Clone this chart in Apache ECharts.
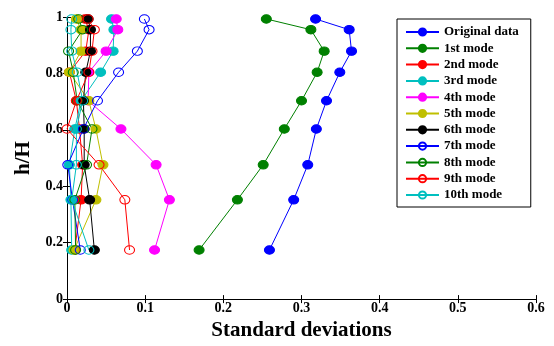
<!DOCTYPE html>
<html><head><meta charset="utf-8">
<script src="https://cdn.jsdelivr.net/npm/echarts@6/dist/echarts.min.js"></script>
<style>html,body{margin:0;padding:0;background:#fff}#c{width:554px;height:346px}</style>
</head><body><div id="c"></div>
<script>
// Heights (h/H) shared by all series
const heights = [0.993, 0.955, 0.879, 0.804, 0.703, 0.603, 0.476, 0.352, 0.174];
const xTicks = ['0','0.1','0.2','0.3','0.4','0.5','0.6'];
const yTicks = ['0','0.2','0.4','0.6','0.8','1'];
// Standard deviations per series
const originalData = [0.318, 0.361, 0.364, 0.349, 0.332, 0.319, 0.308, 0.290, 0.259];
const mode1  = [0.255, 0.312, 0.329, 0.320, 0.300, 0.278, 0.251, 0.218, 0.169];
const mode2  = [0.023, 0.028, 0.024, 0.003, 0.012, 0.016, 0.020, 0.018, 0.010];
const mode3  = [0.057, 0.060, 0.059, 0.043, 0.018, 0.010, 0.003, 0.005, 0.006];
const mode4  = [0.063, 0.065, 0.050, 0.028, 0.027, 0.069, 0.114, 0.131, 0.112];
const mode5  = [0.012, 0.018, 0.018, 0.003, 0.028, 0.037, 0.046, 0.037, 0.009];
const mode6  = [0.027, 0.030, 0.030, 0.024, 0.021, 0.022, 0.022, 0.029, 0.035];
const mode7  = [0.099, 0.105, 0.090, 0.066, 0.039, 0.021, 0.001, 0.007, 0.017];
const mode8  = [0.015, 0.020, 0.002, 0.008, 0.013, 0.032, 0.025, 0.010, 0.011];
const mode9  = [0.027, 0.035, 0.032, 0.028, 0.012, 0.000, 0.041, 0.074, 0.080];
const mode10 = [0.006, 0.005, 0.006, 0.013, 0.020, 0.012, 0.012, 0.006, 0.028];

const seriesNames = ['Original data','1st mode','2nd mode','3rd mode','4th mode','5th mode','6th mode','7th mode','8th mode','9th mode','10th mode'];
const seriesValues = [originalData, mode1, mode2, mode3, mode4, mode5, mode6, mode7, mode8, mode9, mode10];
const seriesColors = ['#0000ff','#008000','#ff0000','#00bfbf','#ff00ff','#bfbf00','#000000','#0000ff','#008000','#ff0000','#00bfbf'];
const seriesFilled = [true,true,true,true,true,true,true,false,false,false,false];

const font = 'Liberation Serif, Times New Roman, serif';
const series = seriesNames.map((n, i) => ({
  name: n, type: 'line',
  data: seriesValues[i].map((v, k) => [v, heights[k]]),
  symbol: 'circle',
  symbolSize: [10, 8.5],
  showAllSymbol: true,
  lineStyle: { color: seriesColors[i], width: 1 },
  itemStyle: { color: seriesFilled[i] ? seriesColors[i] : 'rgba(255,255,255,0)', borderColor: seriesColors[i], borderWidth: 1 },
  emphasis: { disabled: true },
  animation: false
}));

const chart = echarts.init(document.getElementById('c'));
chart.setOption({
  animation: false,
  backgroundColor: '#fff',
  grid: { left: 67, right: 18, top: 17, bottom: 42, containLabel: false },
  xAxis: [{
    type: 'value', min: 0, max: 0.6, interval: 0.1,
    name: 'Standard deviations', nameLocation: 'middle', nameGap: 16,
    nameTextStyle: { fontFamily: font, fontWeight: 'bold', fontSize: 21, color: '#000' },
    axisLine: { lineStyle: { color: '#000', width: 1 } },
    axisTick: { inside: true, length: 4, lineStyle: { color: '#000' } },
    axisLabel: { margin: 2, fontFamily: font, fontWeight: 'bold', fontSize: 14, color: '#000',
      formatter: (v) => xTicks[Math.round(v * 10)] },
    splitLine: { show: false }
  }, {
    type: 'value', min: 0, max: 0.6, interval: 0.1, position: 'top',
    axisLine: { show: true, lineStyle: { color: '#000', width: 1 } },
    axisTick: { inside: true, length: 4, lineStyle: { color: '#000' } },
    axisLabel: { show: false }, splitLine: { show: false }
  }],
  yAxis: [{
    type: 'value', min: 0, max: 1, interval: 0.2,
    name: 'h/H', nameLocation: 'middle', nameGap: 33, nameRotate: 90,
    nameTextStyle: { fontFamily: font, fontWeight: 'bold', fontSize: 21, color: '#000' },
    axisLine: { show: true, lineStyle: { color: '#000', width: 1 } },
    axisTick: { show: true, inside: true, length: 4, lineStyle: { color: '#000' } },
    axisLabel: { margin: 4, fontFamily: font, fontWeight: 'bold', fontSize: 14, color: '#000',
      formatter: (v) => yTicks[Math.round(v * 5)] },
    splitLine: { show: false }
  }, {
    type: 'value', min: 0, max: 1, interval: 0.2, position: 'right',
    axisLine: { show: true, lineStyle: { color: '#000', width: 1 } },
    axisTick: { show: true, inside: true, length: 4, lineStyle: { color: '#000' } },
    axisLabel: { show: false }, splitLine: { show: false }
  }],
  legend: {
    orient: 'vertical', left: 397, top: 19,
    padding: [6, 12, 5, 8],
    itemWidth: 33, itemHeight: 9, itemGap: 2.3,
    backgroundColor: '#fff', borderColor: '#000', borderWidth: 1, borderRadius: 0,
    textStyle: { fontFamily: font, fontWeight: 'bold', fontSize: 13, color: '#000', lineHeight: 14 },
    data: seriesNames,
    selectedMode: false
  },
  series: series
});
</script></body></html>
